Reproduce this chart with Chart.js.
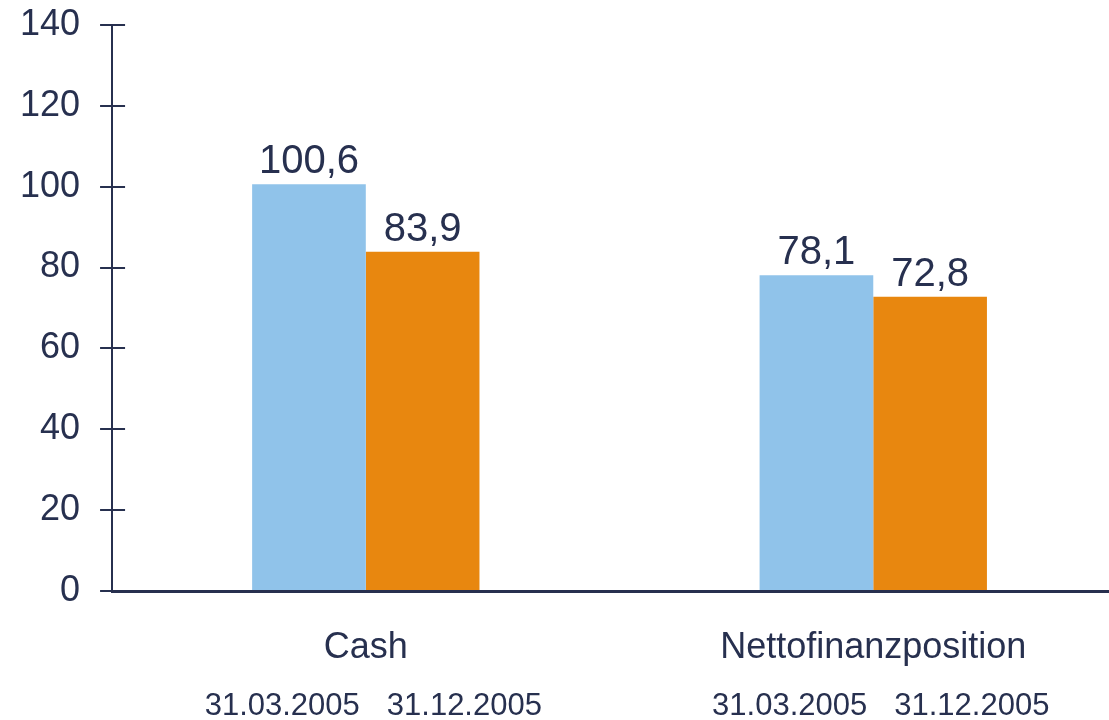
<!DOCTYPE html>
<html>
<head>
<meta charset="utf-8">
<script src="https://cdn.jsdelivr.net/npm/chart.js@4/dist/chart.umd.min.js"></script>
<style>
html,body{margin:0;padding:0;background:#fff;overflow:hidden}
#wrap{width:1109px;height:720px;overflow:hidden}
</style>
</head>
<body>
<div id="wrap"><canvas id="grafico" width="1127" height="720"></canvas></div>
<script>
let kategorien=['Cash','Nettofinanzposition']
let datumLabels=['31.03.2005','31.12.2005']
let werte2005Maerz=[100.6,78.1]
let werte2005Dez=[83.9,72.8]
let yTicks=[0,20,40,60,80,100,120,140]

let navy='#27304f'
let fontFamily='"Liberation Sans", Arial, Helvetica, sans-serif'

let fmt=v=>v.toFixed(1).replace('.',',')

// Wertebeschriftung ueber den Balken
let wertePlugin={
id:'werte',
afterDatasetsDraw(chart){
let ctx=chart.ctx
ctx.save()
ctx.fillStyle=navy
ctx.font='40px '+fontFamily
ctx.textAlign='center'
ctx.textBaseline='alphabetic'
chart.data.datasets.forEach((ds,i)=>{
chart.getDatasetMeta(i).data.forEach((bar,j)=>{
ctx.fillText(fmt(ds.data[j]),bar.x,bar.y-11)
})
})
ctx.restore()
}
}

// Ticks kreuzen die y-Achse, Datumszeile unter den Kategorien
let achsenPlugin={
id:'achsen',
afterDraw(chart){
let ctx=chart.ctx
let y=chart.scales.y
let x=chart.scales.x
ctx.save()
ctx.strokeStyle=navy
ctx.lineWidth=2
yTicks.forEach(t=>{
let py=Math.round(y.getPixelForValue(t))
ctx.beginPath()
ctx.moveTo(chart.chartArea.left,py)
ctx.lineTo(chart.chartArea.left+13,py)
ctx.stroke()
})
ctx.fillStyle=navy
ctx.font='31px '+fontFamily
ctx.textBaseline='alphabetic'
kategorien.forEach((k,i)=>{
let cx=x.getPixelForValue(i)
ctx.textAlign='right'
ctx.fillText(datumLabels[0],cx-6,715)
ctx.textAlign='left'
ctx.fillText(datumLabels[1],cx+21,715)
})
ctx.restore()
}
}

new Chart(document.getElementById('grafico'),{
type:'bar',
data:{
labels:kategorien,
datasets:[{
label:datumLabels[0],
data:werte2005Maerz,
backgroundColor:'#90c3ea',
borderWidth:0
},{
label:datumLabels[1],
data:werte2005Dez,
backgroundColor:'#e8870f',
borderWidth:0
}]
},
options:{
responsive:false,
animation:false,
layout:{
padding:{left:0,top:25,right:0,bottom:0}
},
plugins:{
legend:{display:false},
tooltip:{enabled:false}
},
datasets:{
bar:{
categoryPercentage:0.448,
barPercentage:1
}
},
scales:{
x:{
grid:{display:false,drawTicks:false},
border:{display:true,color:navy,width:3},
ticks:{
color:navy,
font:{size:36,family:fontFamily},
padding:35,
maxRotation:0
},
afterFit(s){s.height=129;s.paddingLeft=0;s.paddingRight=0}
},
y:{
min:0,
max:140,
afterBuildTicks(s){s.ticks=yTicks.map(v=>({value:v}))},
afterFit(s){s.paddingTop=0;s.paddingBottom=0},
grid:{drawOnChartArea:false,drawTicks:true,tickLength:12,color:navy,lineWidth:2},
border:{display:true,color:navy,width:2},
ticks:{
color:navy,
font:{size:36,family:fontFamily},
padding:20
}
}
}
},
plugins:[wertePlugin,achsenPlugin]
})
</script>
</body>
</html>
